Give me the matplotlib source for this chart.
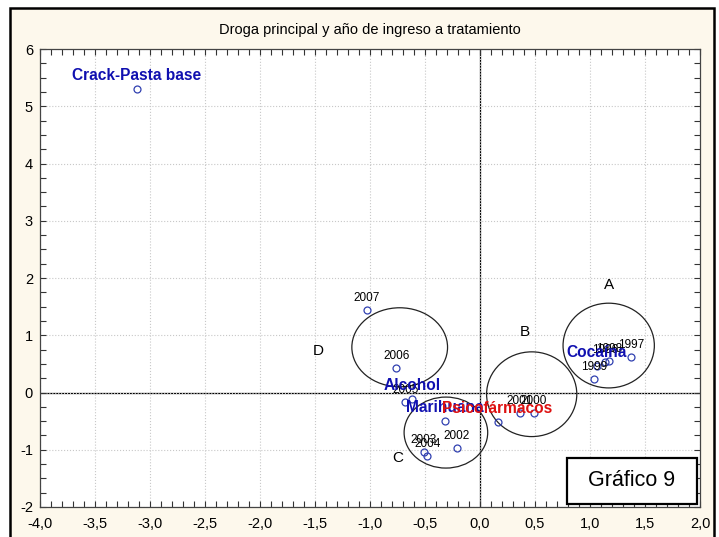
import matplotlib
matplotlib.use("Agg")
import matplotlib.pyplot as plt
from matplotlib.patches import Ellipse, Rectangle
from matplotlib.ticker import MultipleLocator, FuncFormatter

plt.rcParams['font.family'] = ['Liberation Sans', 'DejaVu Sans']

# datos: drogas
drogas = ['Crack-Pasta base', 'Alcohol', 'Marihuana', 'Psicofármacos', 'Cocaína']
drogas_x = [-3.12, -0.62, -0.32, 0.16, 1.06]
drogas_y = [5.30, -0.11, -0.50, -0.51, 0.46]
drogas_col = ['#1010b0', '#1010b0', '#1010b0', '#dd1111', '#1010b0']

# datos: años de ingreso
anios = ['1996', '1997', '1998', '1999', '2000', '2001',
         '2002', '2003', '2004', '2005', '2006', '2007']
anios_x = [1.14, 1.37, 1.17, 1.04, 0.49, 0.36, -0.21, -0.51, -0.48, -0.68, -0.76, -1.03]
anios_y = [0.53, 0.62, 0.55, 0.24, -0.36, -0.36, -0.97, -1.04, -1.11, -0.17, 0.43, 1.44]

# grupos (elipses): centro x, centro y, ancho, alto, letra x, letra y
grupos = ['A', 'B', 'C', 'D']
grupos_cx = [1.17, 0.47, -0.31, -0.73]
grupos_cy = [0.82, -0.03, -0.70, 0.79]
grupos_w = [0.83, 0.82, 0.76, 0.87]
grupos_h = [1.48, 1.48, 1.24, 1.38]
letra_x = [1.17, 0.41, -0.75, -1.47]
letra_y = [1.88, 1.06, -1.14, 0.72]

crema = '#fdf8ec'
fig = plt.figure(figsize=(7.19, 5.37), dpi=100)
fig.patch.set_facecolor('white')
marco = Rectangle((10 / 719, -0.05), 704 / 719, 1.05 - 8 / 537, transform=fig.transFigure,
                  facecolor=crema, edgecolor='black', lw=1.8, zorder=-10)
fig.patches.append(marco)

ax = fig.add_axes([40 / 719, 30 / 537, 660 / 719, 458 / 537])
ax.set_facecolor('white')
ax.set_xlim(-4, 2)
ax.set_ylim(-2, 6)

ax.xaxis.set_major_locator(MultipleLocator(0.5))
ax.xaxis.set_minor_locator(MultipleLocator(0.1))
ax.yaxis.set_major_locator(MultipleLocator(1))
ax.yaxis.set_minor_locator(MultipleLocator(0.25))
ax.xaxis.set_major_formatter(FuncFormatter(lambda v, p: f"{v:.1f}".replace('.', ',')))
ax.yaxis.set_major_formatter(FuncFormatter(lambda v, p: f"{v:.0f}"))
ax.tick_params(which='both', direction='in', top=True, right=True, length=4,
               width=0.8, color='#333333', labelsize=10.5)
ax.tick_params(axis='x', which='major', pad=7)
ax.tick_params(axis='y', which='major', pad=5)
for s in ax.spines.values():
    s.set_color('#444444')
    s.set_linewidth(0.9)
ax.grid(True, which='major', linestyle=':', color='#c8c8c8', lw=0.8)

ax.axhline(0, color='black', lw=0.9, zorder=1)
ax.axvline(0, color='black', lw=0.9, zorder=1)

for i in range(len(grupos)):
    ax.add_patch(Ellipse((grupos_cx[i], grupos_cy[i]), grupos_w[i], grupos_h[i],
                         fill=False, edgecolor='#222222', lw=0.9, zorder=2))
    ax.text(letra_x[i], letra_y[i], grupos[i], fontsize=11, ha='center', va='center')

ax.plot(anios_x, anios_y, 'o', mfc='none', mec='#3040b0', ms=5, mew=0.9, zorder=3)
ax.plot(drogas_x, drogas_y, 'o', mfc='none', mec='#3040b0', ms=5, mew=0.9, zorder=3)

for i in range(len(anios)):
    ax.annotate(anios[i], (anios_x[i], anios_y[i]), xytext=(0, 8.5),
                textcoords='offset points', ha='center', va='center',
                fontsize=8.5, color='black', zorder=4)
for i in range(len(drogas)):
    ax.annotate(drogas[i], (drogas_x[i], drogas_y[i]), xytext=(0, 9.5),
                textcoords='offset points', ha='center', va='center',
                fontsize=11.2, fontweight='bold', color=drogas_col[i], zorder=5)

ax.set_title('Droga principal y año de ingreso a tratamiento', fontsize=10.5, pad=11)

# recuadro "Gráfico 9"
ax.add_patch(Rectangle((0.798, 0.007), 0.197, 0.100, transform=ax.transAxes,
                       facecolor='white', edgecolor='black', lw=1.6, zorder=6))
ax.text(0.897, 0.057, 'Gráfico 9', transform=ax.transAxes, fontsize=15.5,
        ha='center', va='center', zorder=7)

fig.savefig('out.png', dpi=100, facecolor=fig.get_facecolor())
